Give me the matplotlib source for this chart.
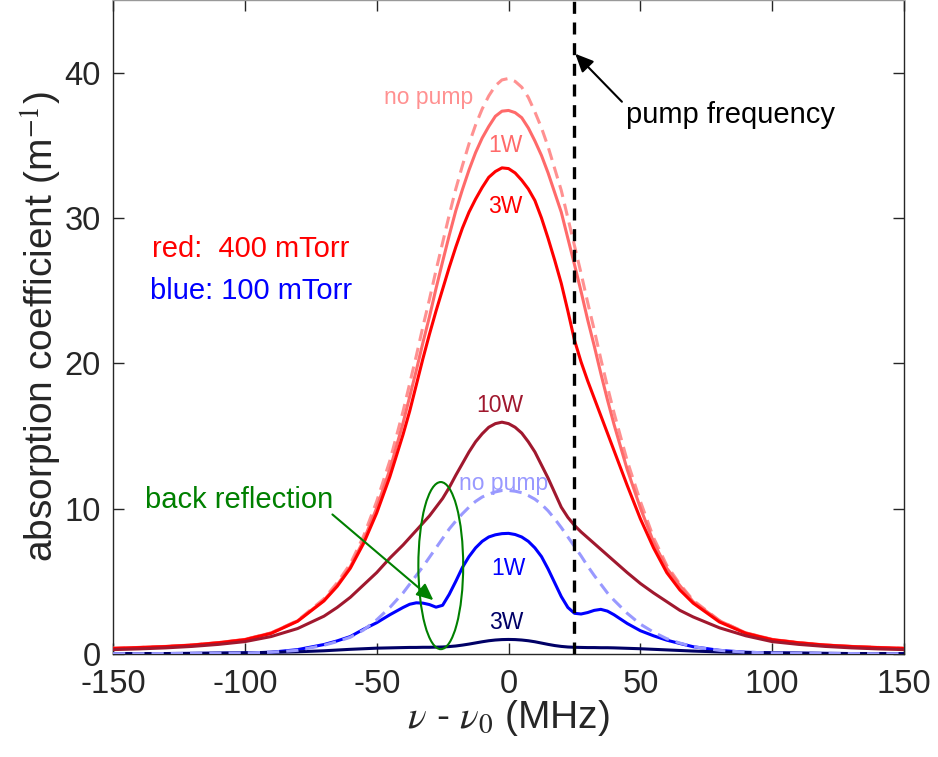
import numpy as np
import matplotlib
matplotlib.use("Agg")
import matplotlib.pyplot as plt
from matplotlib.patches import Ellipse

plt.rcParams['font.family'] = ['Liberation Sans', 'DejaVu Sans']
plt.rcParams['mathtext.fontset'] = 'stix'
plt.rcParams['axes.unicode_minus'] = False

# detuning grid (MHz)
freq = [-150, -140, -130, -120, -110, -100, -90, -80, -70, -65, -60, -55, -50, -45, -40,
        -37.5, -35, -32.5, -30, -27.5, -25, -22.5, -20, -17.5, -15, -12.5, -10, -7.5, -5, -2.5,
        0, 2.5, 5, 7.5, 10, 12.5, 15, 17.5, 20, 22.5, 25, 27.5, 30, 32.5, 35, 37.5,
        40, 45, 50, 55, 60, 65, 70, 80, 90, 100, 110, 120, 130, 140, 150]

# 400 mTorr (red family)
red_nopump = [0.39, 0.45, 0.52, 0.62, 0.78, 1.0, 1.45, 2.3, 3.8, 4.9, 6.2, 8.1, 10.5, 13.3, 16.7,
              18.6, 20.5, 22.5, 24.4, 26.4, 28.3, 30.2, 32.0, 33.6, 35.1, 36.4, 37.5, 38.4, 39.1, 39.5,
              39.6, 39.4, 39.0, 38.3, 37.3, 36.2, 34.9, 33.4, 31.9, 30.0, 28.1, 26.2, 24.2, 22.3, 20.3, 18.4,
              16.6, 13.3, 10.5, 8.0, 6.1, 4.8, 3.7, 2.3, 1.45, 1.0, 0.78, 0.62, 0.52, 0.45, 0.39]
red_1W = [0.39, 0.45, 0.52, 0.62, 0.78, 1.0, 1.45, 2.28, 3.7, 4.75, 6.0, 7.8, 10.05, 12.7, 15.9,
          17.7, 19.5, 21.4, 23.2, 25.15, 27.0, 28.8, 30.5, 31.95, 33.3, 34.5, 35.5, 36.3, 37.0, 37.35,
          37.4, 37.25, 36.9, 36.2, 35.3, 34.3, 33.1, 31.75, 30.4, 28.6, 26.8, 24.95, 23.0, 21.2, 19.3, 17.5,
          15.8, 12.7, 10.05, 7.7, 5.9, 4.7, 3.6, 2.28, 1.45, 1.0, 0.78, 0.62, 0.52, 0.45, 0.39]
red_3W = [0.38, 0.44, 0.51, 0.61, 0.77, 0.98, 1.42, 2.25, 3.65, 4.65, 5.9, 7.6, 9.7, 12.2, 15.1,
          16.7, 18.5, 20.3, 22.0, 23.6, 25.1, 26.6, 28.0, 29.3, 30.4, 31.3, 32.1, 32.8, 33.2, 33.45,
          33.4, 33.1, 32.6, 32.0, 31.2, 30.0, 28.6, 27.1, 25.5, 23.6, 21.6, 20.1, 18.8, 17.6, 16.4, 15.2,
          14.0, 11.6, 9.3, 7.3, 5.6, 4.4, 3.5, 2.2, 1.42, 0.98, 0.77, 0.61, 0.51, 0.44, 0.38]
red_10W = [0.3, 0.35, 0.42, 0.52, 0.66, 0.85, 1.2, 1.75, 2.6, 3.2, 3.9, 4.75, 5.6, 6.6, 7.5,
           8.0, 8.5, 9.0, 9.5, 10.1, 10.7, 11.45, 12.3, 13.1, 13.9, 14.6, 15.15, 15.6, 15.85, 15.95,
           15.85, 15.6, 15.2, 14.6, 13.9, 13.0, 12.1, 11.1, 10.1, 9.4, 8.85, 8.4, 8.0, 7.6, 7.2, 6.8,
           6.4, 5.6, 4.85, 4.2, 3.6, 3.0, 2.55, 1.8, 1.25, 0.85, 0.66, 0.52, 0.42, 0.35, 0.3]

# 100 mTorr (blue family)
blue_nopump = [0.02, 0.02, 0.03, 0.04, 0.05, 0.07, 0.12, 0.25, 0.6, 0.85, 1.15, 1.65, 2.35, 3.2, 4.2,
               4.8, 5.4, 6.0, 6.65, 7.3, 7.95, 8.6, 9.15, 9.65, 10.1, 10.5, 10.8, 11.0, 11.15, 11.25,
               11.25, 11.2, 11.1, 10.9, 10.65, 10.3, 9.85, 9.3, 8.7, 8.05, 7.4, 6.75, 6.05, 5.4, 4.8, 4.2,
               3.7, 2.8, 2.05, 1.5, 1.05, 0.75, 0.5, 0.25, 0.12, 0.07, 0.05, 0.04, 0.03, 0.02, 0.02]
blue_1W = [0.02, 0.02, 0.03, 0.04, 0.05, 0.07, 0.12, 0.3, 0.65, 0.9, 1.2, 1.7, 2.15, 2.7, 3.2,
           3.42, 3.52, 3.5, 3.4, 3.22, 3.35, 4.1, 5.0, 5.95, 6.7, 7.3, 7.75, 8.05, 8.2, 8.28,
           8.3, 8.22, 8.05, 7.75, 7.3, 6.7, 5.85, 4.9, 3.95, 3.2, 2.8, 2.75, 2.85, 3.0, 3.07, 2.95,
           2.7, 2.1, 1.6, 1.25, 0.95, 0.72, 0.5, 0.25, 0.12, 0.07, 0.05, 0.04, 0.03, 0.02, 0.02]
blue_3W = [0.02, 0.03, 0.03, 0.04, 0.06, 0.08, 0.11, 0.15, 0.22, 0.27, 0.32, 0.36, 0.4, 0.42, 0.44,
           0.45, 0.45, 0.46, 0.46, 0.47, 0.48, 0.51, 0.55, 0.61, 0.68, 0.76, 0.84, 0.91, 0.96, 0.99,
           1.0, 0.99, 0.96, 0.91, 0.84, 0.75, 0.66, 0.58, 0.52, 0.48, 0.46, 0.45, 0.44, 0.44, 0.43, 0.43,
           0.42, 0.39, 0.36, 0.32, 0.28, 0.24, 0.2, 0.14, 0.1, 0.08, 0.06, 0.04, 0.03, 0.03, 0.02]

pump_freq = 25
xticks = [-150, -100, -50, 0, 50, 100, 150]
yticks = [0, 10, 20, 30, 40]

fig = plt.figure(figsize=(9.38, 7.57), dpi=100)
ax = fig.add_axes([0.1205, 0.1361, 0.8433, 0.8639])

lw = 2.2
kw = dict(solid_joinstyle='round', solid_capstyle='round')
ax.plot(freq, red_nopump, color='#FF9191', lw=lw, ls=(0, (4, 2.3)), zorder=3)
ax.plot(freq, red_1W, color='#FF6A6A', lw=lw, zorder=4, **kw)
ax.plot(freq, red_3W, color='#FF0000', lw=lw, zorder=5, **kw)
ax.plot(freq, red_10W, color='#A0182E', lw=lw, zorder=5, **kw)
ax.plot(freq, blue_1W, color='#0000FF', lw=lw, zorder=4, **kw)
ax.plot(freq, blue_3W, color='#000066', lw=lw, zorder=4, **kw)
ax.plot(freq, blue_nopump, color='#9999FF', lw=lw, ls=(0, (4, 2.3)), zorder=6)

ax.plot([pump_freq, pump_freq], [0, 45], color='black', lw=2.4, ls=(0, (3.6, 2.6)), zorder=7)

ax.annotate('', xy=(25.3, 41.3), xytext=(43.0, 38.0),
            arrowprops=dict(arrowstyle='-|>,head_length=1.1,head_width=0.5', color='black', lw=1.5,
                            shrinkA=0, shrinkB=0), zorder=8)
ax.text(44.6, 37.1, 'pump frequency', fontsize=21, color='black', va='center', ha='left')

sfs = 16.5
ax.text(-30.4, 38.3, 'no pump', fontsize=sfs, color='#FF9191', ha='center', va='center')
ax.text(-1.3, 34.96, '1W', fontsize=sfs, color='#FF6A6A', ha='center', va='center')
ax.text(-1.3, 30.8, '3W', fontsize=sfs, color='#FF0000', ha='center', va='center')
ax.text(-3.2, 17.1, '10W', fontsize=sfs, color='#A0182E', ha='center', va='center')
ax.text(-2.0, 11.7, 'no pump', fontsize=sfs, color='#9999FF', ha='center', va='center')
ax.text(0.0, 5.9, '1W', fontsize=sfs, color='#0000FF', ha='center', va='center')
ax.text(-1.0, 2.15, '3W', fontsize=sfs, color='#000066', ha='center', va='center')

ax.text(-135.2, 27.9, 'red:  400 mTorr', fontsize=21, color='#FF0000', ha='left', va='center')
ax.text(-135.8, 25.0, 'blue: 100 mTorr', fontsize=21, color='#0000FF', ha='left', va='center')

ax.text(-137.8, 10.6, 'back reflection', fontsize=21, color='#008000', ha='left', va='center')
ax.annotate('', xy=(-28.5, 3.7), xytext=(-66.8, 9.6),
            arrowprops=dict(arrowstyle='-|>,head_length=1.0,head_width=0.45', color='#008000', lw=1.5,
                            shrinkA=0, shrinkB=0), zorder=8)
ax.add_patch(Ellipse((-25.7, 6.08), 17, 11.5, fill=False, edgecolor='#008000', lw=1.5, zorder=8))

ax.set_xlim(-150, 150)
ax.set_ylim(0, 45)
ax.set_xticks(xticks)
ax.set_yticks(yticks)
ax.tick_params(direction='in', length=8, width=1.0, labelsize=23.5, colors='#262626',
               top=True, right=True)
ax.tick_params(axis='x', pad=10.5)
ax.tick_params(axis='y', pad=9)
for sp in ax.spines.values():
    sp.set_color('#262626')
    sp.set_linewidth(1.0)
ax.spines['top'].set_color('#999999')

ax.set_xlabel(r'$\nu$ - $\nu_0$ (MHz)', fontsize=28, color='#262626', labelpad=-1)
ax.set_ylabel(r'absorption coefficient (m$^{-1}$)', fontsize=28, color='#262626', labelpad=0)

fig.savefig('out.png', dpi=100)
